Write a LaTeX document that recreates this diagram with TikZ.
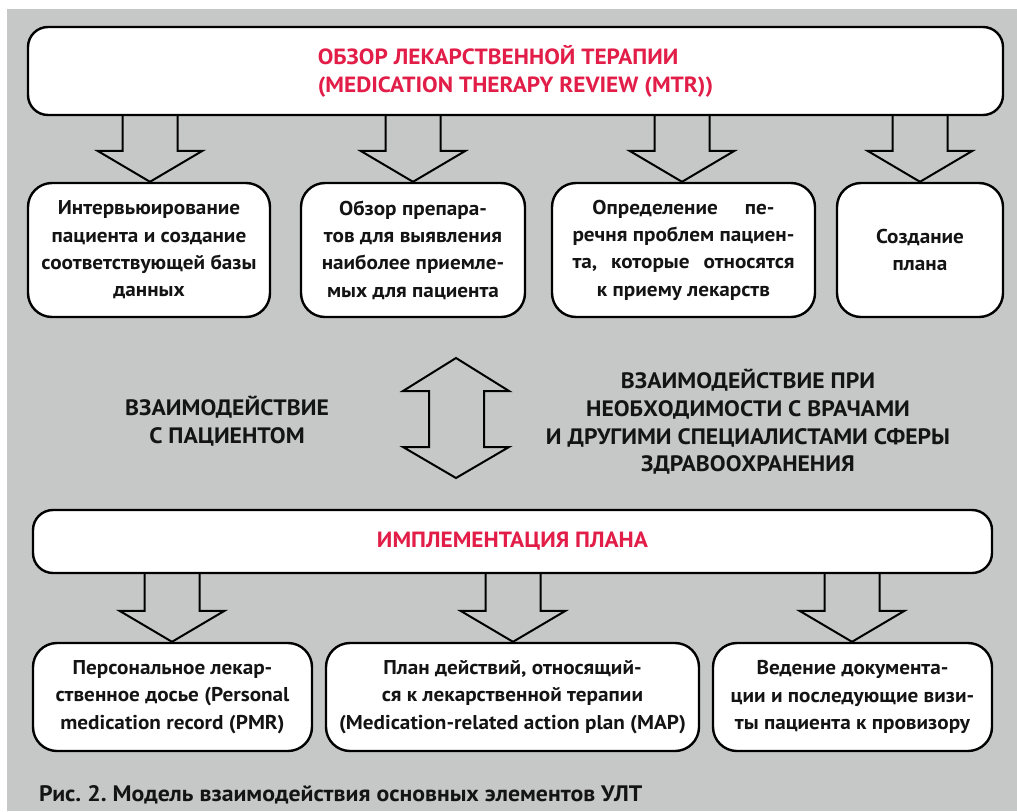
\documentclass[tikz,border=0pt]{standalone}
\usepackage{fontspec}
\setmainfont{PT Sans}[FakeStretch=1.06]
\usetikzlibrary{calc}
\frenchspacing
\definecolor{bggray}{RGB}{198,200,199}
\definecolor{titlered}{RGB}{226,29,72}
\definecolor{ink}{RGB}{20,20,20}
\newcommand\mybf{\fontsize{20}{27.3}\selectfont\bfseries}
\newcommand\mymid{\fontsize{22.3}{27.7}\selectfont\bfseries}
\newcommand\mytitle{\fontsize{22}{28}\selectfont\bfseries}
\newcommand\mycap{\fontsize{22.4}{28}\selectfont\bfseries}
\newlength\wlineB
\newcommand\blockdown[3]{%
  \coordinate (s#3) at (#3 |- #1.south);
  \coordinate (t#3) at (#3 |- #2.north);
  \draw[barrow] ($(s#3)+(-27.5,0)$) -- ($(t#3)+(-27.5,-31)$) -- ($(t#3)+(-52.5,-31)$)
     -- (t#3) -- ($(t#3)+(52.5,-31)$) -- ($(t#3)+(27.5,-31)$) -- ($(s#3)+(27.5,0)$);}
\begin{document}
\settowidth{\wlineB}{\mybf речня проблем пациен-}%
\begin{tikzpicture}[x=1pt,y=-1pt,
  box/.style={draw=black, line width=2.4pt, fill=white, rounded corners=24pt,
    inner sep=0pt, align=center, font=\mybf, text=ink},
  bigbox/.style={box, rounded corners=20pt, font=\mytitle, text=titlered},
  midtext/.style={align=center, font=\mymid, text=ink, inner sep=0pt},
  barrow/.style={draw=black, line width=2pt, line join=miter}]
\useasboundingbox (0,0) rectangle (1017,811);
\fill[white] (0,0) rectangle (1017,811);
\fill[bggray] (7,9) rectangle (1017,811);
% top box
\node[bigbox, minimum width=975pt, minimum height=88pt, align=left] (top) at (515.5,71)
  {ОБЗОР ЛЕКАРСТВЕННОЙ ТЕРАПИИ\\(MEDICATION THERAPY REVIEW (MTR))};
% row 1
\node[box, minimum width=242pt, minimum height=134pt] (r1) at (149,250)
  {Интервьюирование\\пациента и создание\\соответствующей базы\\данных};
\node[box, minimum width=224pt, minimum height=134pt] (r2) at (413,250)
  {Обзор препара-\\тов для выявления\\наиболее приемле-\\мых для пациента};
\node[box, minimum width=263pt, minimum height=134pt] (r3) at (683.5,250)
  {\makebox[0.82\wlineB][s]{Определение пе-}\\речня проблем пациен-\\\makebox[\wlineB][s]{та, которые относятся}\\к приему лекарств};
\node[box, minimum width=166pt, minimum height=134pt] (r4) at (920,250)
  {Создание\\плана};
\coordinate (xa) at (150,0);
\coordinate (xb) at (413,0);
\coordinate (xc) at (682,0);
\coordinate (xd) at (920,0);
\blockdown{top}{r1}{xa}
\blockdown{top}{r2}{xb}
\blockdown{top}{r3}{xc}
\blockdown{top}{r4}{xd}
% middle
\node[midtext] (ml) at (227,421) {ВЗАИМОДЕЙСТВИЕ\\С ПАЦИЕНТОМ};
\node[midtext] (mr) at (748,422) {ВЗАИМОДЕЙСТВИЕ ПРИ\\НЕОБХОДИМОСТИ С ВРАЧАМИ\\И ДРУГИМИ СПЕЦИАЛИСТАМИ СФЕРЫ\\ЗДРАВООХРАНЕНИЯ};
\draw[barrow] (456,358) -- (509,391) -- (484,391) -- (484,447) -- (509,447) -- (456,478)
  -- (403,447) -- (429,447) -- (429,391) -- (403,391) -- cycle;
% bottom box
\node[bigbox, minimum width=959pt, minimum height=63pt] (impl) at (512.5,541.5)
  {ИМПЛЕМЕНТАЦИЯ ПЛАНА};
\node[box, minimum width=279pt, minimum height=108pt] (b1) at (172.5,697)
  {\raisebox{4pt}{\parbox{270pt}{\centering Персональное лекар-\\ственное досье (Personal\\medication record (PMR)}}};
\node[box, minimum width=373pt, minimum height=108pt] (b2) at (512.5,697)
  {\raisebox{4pt}{\parbox{365pt}{\centering План действий, относящий-\\ся к лекарственной терапии\\(Medication-related action plan (MAP)}}};
\node[box, minimum width=279pt, minimum height=108pt] (b3) at (852.5,697)
  {\raisebox{4pt}{\parbox{270pt}{\centering Ведение документа-\\ции и последующие визи-\\ты пациента к провизору}}};
\coordinate (xe) at (172,0);
\coordinate (xf) at (513,0);
\coordinate (xg) at (852,0);
\blockdown{impl}{b1}{xe}
\blockdown{impl}{b2}{xf}
\blockdown{impl}{b3}{xg}
% caption
\node[anchor=west, font=\mycap, text=ink, inner sep=0pt] (cap) at (39,795)
  {Рис. 2. Модель взаимодействия основных элементов УЛТ};
\end{tikzpicture}
\end{document}
